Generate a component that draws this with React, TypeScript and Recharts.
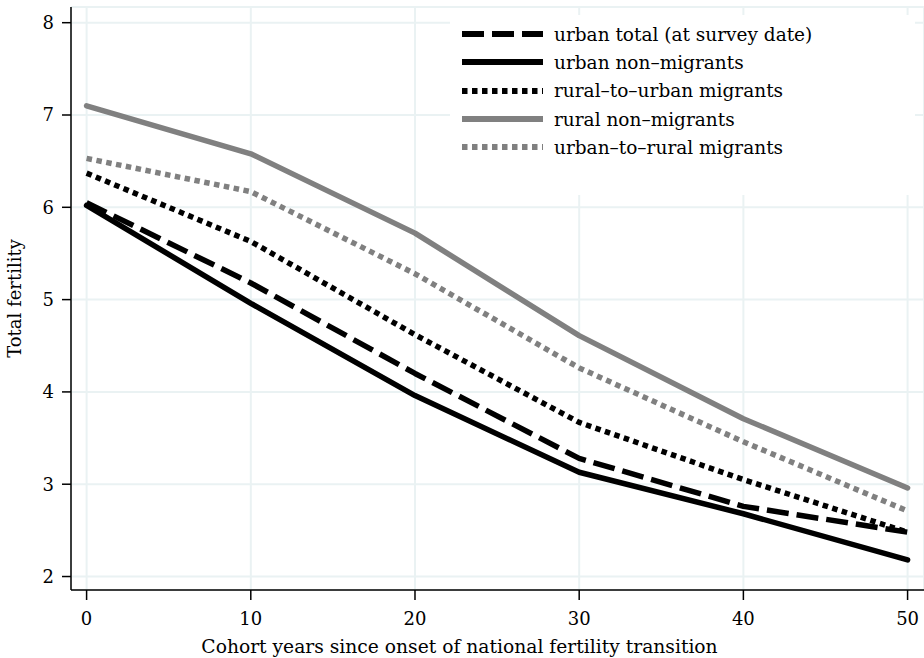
import { LineChart, Line, XAxis, YAxis, CartesianGrid, Legend, Label } from 'recharts';

const years = [0, 10, 20, 30, 40, 50];
const urbanTotal = [6.05, 5.18, 4.2, 3.28, 2.76, 2.48];
const urbanNonMigrants = [6.02, 4.96, 3.96, 3.13, 2.68, 2.18];
const ruralToUrban = [6.37, 5.63, 4.62, 3.67, 3.05, 2.48];
const ruralNonMigrants = [7.1, 6.58, 5.72, 4.61, 3.71, 2.96];
const urbanToRural = [6.53, 6.17, 5.28, 4.26, 3.46, 2.71];

const xTicks = [0, 10, 20, 30, 40, 50];
const yTicks = [2, 3, 4, 5, 6, 7, 8];

const FONT = '"DejaVu Serif", serif';

const SERIES = [
  { key: 'urbanTotal', name: 'urban total (at survey date)', color: '#000000', dash: '22 8', cap: 'butt' },
  { key: 'urbanNonMigrants', name: 'urban non\u2013migrants', color: '#000000', dash: undefined, cap: 'round' },
  { key: 'ruralToUrban', name: 'rural\u2013to\u2013urban migrants', color: '#000000', dash: '5.5 4.5', cap: 'butt' },
  { key: 'ruralNonMigrants', name: 'rural non\u2013migrants', color: '#808080', dash: undefined, cap: 'round' },
  { key: 'urbanToRural', name: 'urban\u2013to\u2013rural migrants', color: '#808080', dash: '5.5 4.5', cap: 'butt' },
];

const data = years.map((year, i) => ({
  year,
  urbanTotal: urbanTotal[i],
  urbanNonMigrants: urbanNonMigrants[i],
  ruralToUrban: ruralToUrban[i],
  ruralNonMigrants: ruralNonMigrants[i],
  urbanToRural: urbanToRural[i],
}));

const renderLegend = () => (
  <div style={{ background: '#fff', width: 465, height: 180, paddingTop: 5, boxSizing: 'border-box', fontFamily: FONT, fontSize: 18.5, color: '#000' }}>
    {SERIES.map((s) => (
      <div key={s.key} style={{ display: 'flex', alignItems: 'center', height: 28.3 }}>
        <svg width={104} height={12} style={{ flex: 'none' }}>
          <line x1={12} x2={93} y1={6} y2={6} stroke={s.color} strokeWidth={6} strokeDasharray={s.dash} />
        </svg>
        <span style={{ whiteSpace: 'nowrap' }}>{s.name}</span>
      </div>
    ))}
  </div>
);

export default function App() {
  return (
    <div style={{ position: 'absolute', left: 0, top: 0, background: '#fff' }}>
      <LineChart width={924} height={658} data={data} margin={{ top: 7, right: 0, bottom: 0, left: 1 }}>
        <CartesianGrid stroke="#eaf2f3" strokeWidth={2} />
        <XAxis
          dataKey="year"
          type="number"
          domain={[-0.95, 51]}
          ticks={xTicks}
          allowDataOverflow
          height={68}
          tickSize={10}
          tickMargin={12}
          tick={{ fill: '#000', fontSize: 18, fontFamily: FONT }}
          axisLine={{ stroke: '#000', strokeWidth: 1.5 }}
          tickLine={{ stroke: '#000', strokeWidth: 1.5 }}
        >
          <Label
            value="Cohort years since onset of national fertility transition"
            position="insideBottom"
            offset={5}
            dx={-38}
            style={{ fill: '#000', fontSize: 18.7, fontFamily: FONT }}
          />
        </XAxis>
        <YAxis
          type="number"
          domain={[1.854, 8.17]}
          ticks={yTicks}
          allowDataOverflow
          width={70}
          tickSize={9}
          tickMargin={8}
          tick={{ fill: '#000', fontSize: 18, fontFamily: FONT }}
          axisLine={{ stroke: '#000', strokeWidth: 1.5 }}
          tickLine={{ stroke: '#000', strokeWidth: 1.5 }}
        >
          <Label
            value="Total fertility"
            angle={-90}
            position="insideLeft"
            offset={13.5}
            style={{ fill: '#000', fontSize: 18, fontFamily: FONT, textAnchor: 'middle' }}
          />
        </YAxis>
        <Legend
          layout="vertical"
          align="center"
          verticalAlign="middle"
          content={renderLegend}
          wrapperStyle={{ left: 450, top: 15, width: 465, height: 180 }}
        />
        {SERIES.map((s) => (
          <Line
            key={s.key}
            dataKey={s.key}
            name={s.name}
            stroke={s.color}
            strokeWidth={5.5}
            strokeDasharray={s.dash}
            strokeLinecap={s.cap as 'butt' | 'round'}
            strokeLinejoin="round"
            dot={false}
            activeDot={false}
            isAnimationActive={false}
          />
        ))}
      </LineChart>
    </div>
  );
}
